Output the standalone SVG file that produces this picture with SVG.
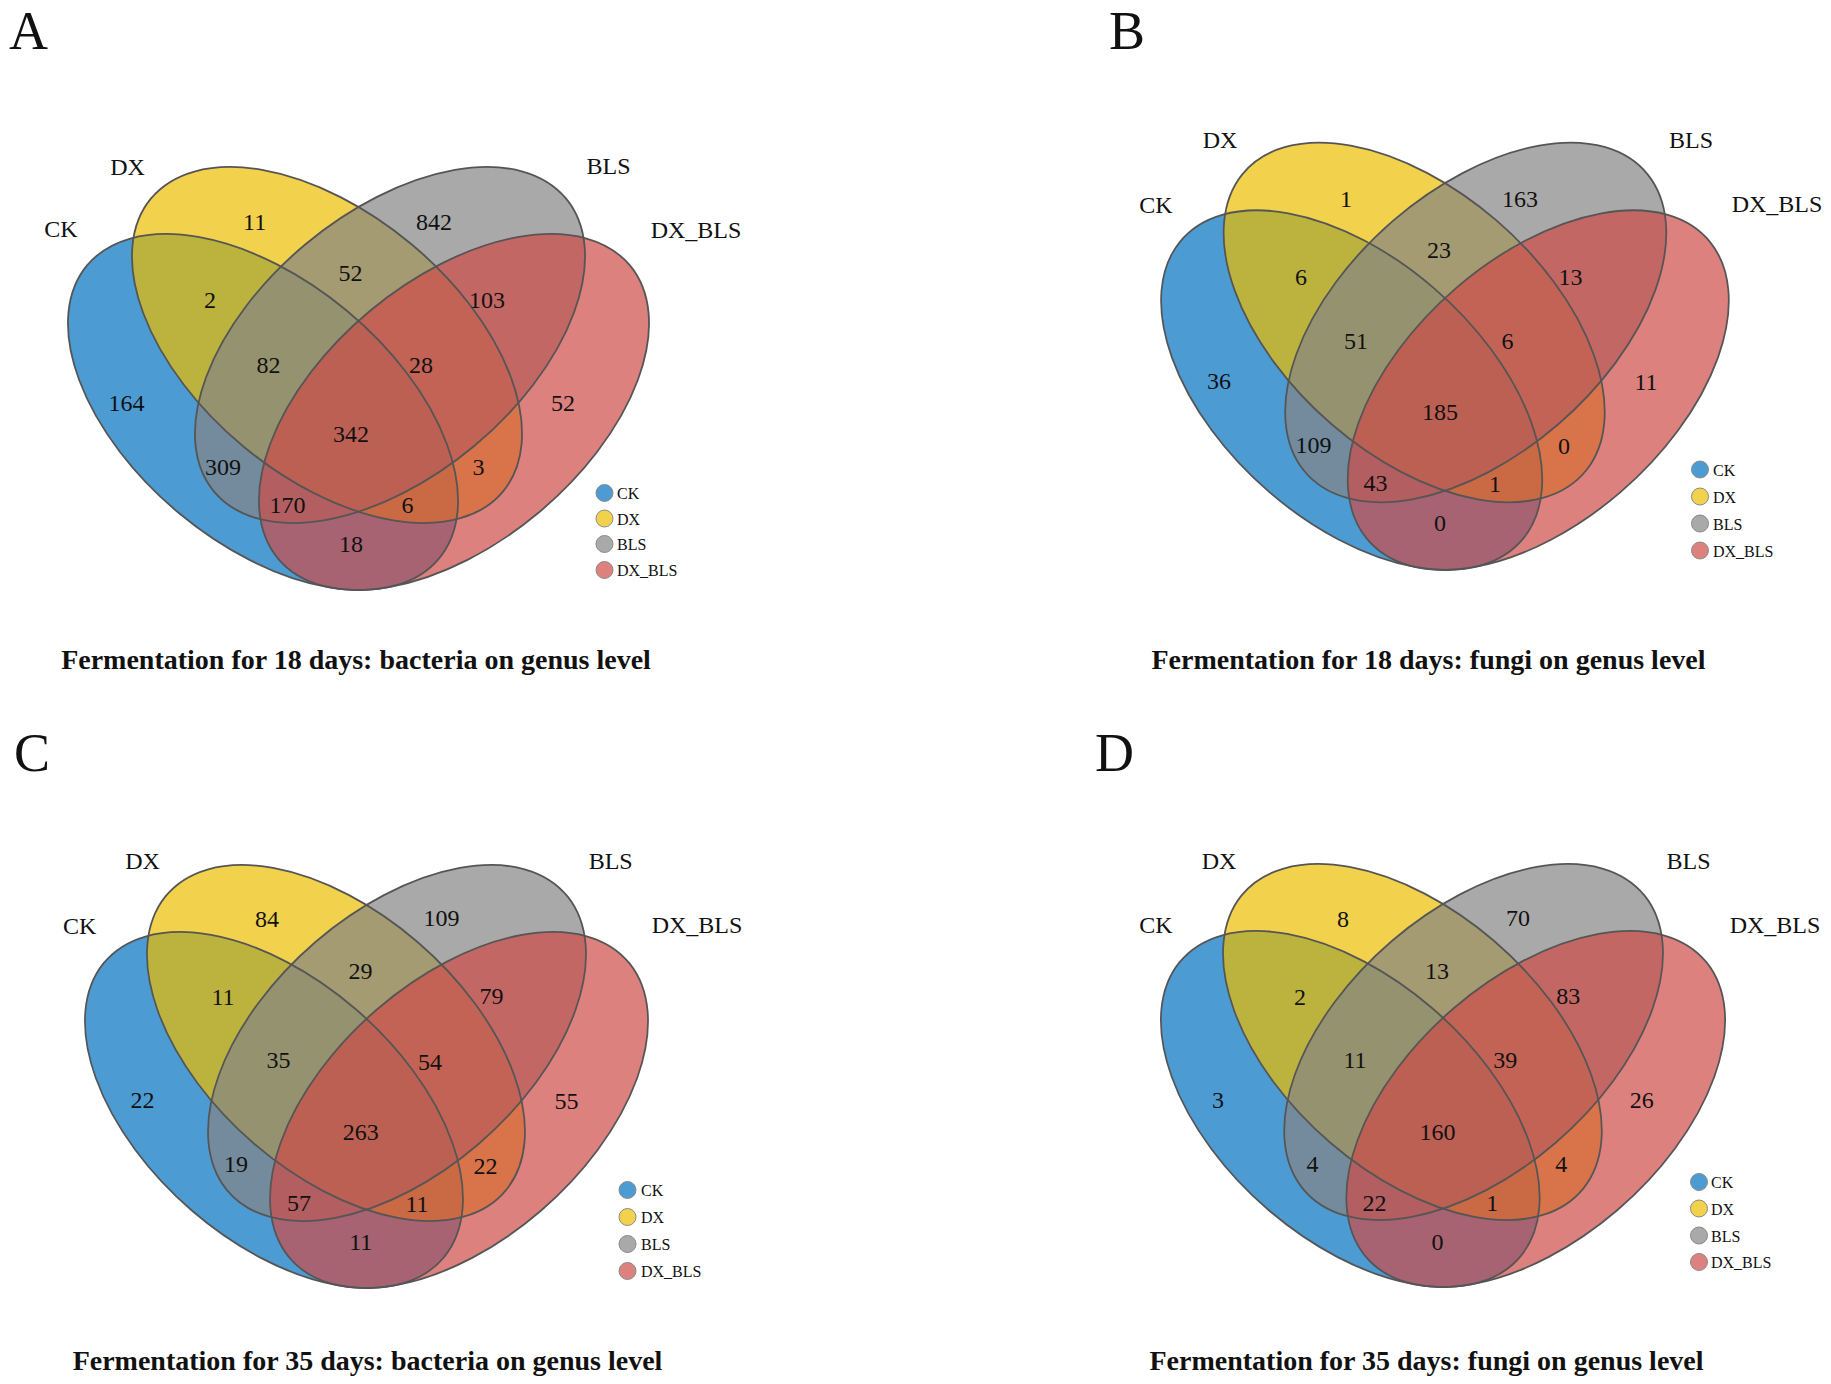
<svg xmlns="http://www.w3.org/2000/svg" xmlns:xlink="http://www.w3.org/1999/xlink" width="1831" height="1384" viewBox="0 0 1831 1384">
<style>
  text{font-family:"Liberation Serif","Times New Roman",serif;fill:#111}
  .n{font-size:24px;text-anchor:middle}
  .lab{font-size:24px;text-anchor:middle}
  .leg{font-size:16px}
  .title{font-size:28px;font-weight:bold;text-anchor:middle}
  .pl{font-size:54px}
  .ck{fill:#0072C0;fill-opacity:0.7;stroke:none}
  .dx{fill:#ECBD00;fill-opacity:0.7;stroke:none}
  .bls{fill:#848484;fill-opacity:0.7;stroke:none}
  .db{fill:#CE4C48;fill-opacity:0.7;stroke:none}
  .ol{fill:none;stroke:#555;stroke-width:1.8;vector-effect:non-scaling-stroke}
  .lc{stroke:#8a8a8a;stroke-width:1}
</style>
<defs>
  <ellipse id="eCK" cx="263" cy="412" rx="229" ry="131.5" transform="rotate(39.8 263 412)"/>
  <ellipse id="eDX" cx="327" cy="345" rx="229" ry="131.5" transform="rotate(39.8 327 345)"/>
  <ellipse id="eBLS" cx="390" cy="345" rx="229" ry="131.5" transform="rotate(-39.8 390 345)"/>
  <ellipse id="eDB" cx="454" cy="412" rx="229" ry="131.5" transform="rotate(-39.8 454 412)"/>
  <g id="venn">
    <use xlink:href="#eCK" class="ck"/>
    <use xlink:href="#eDX" class="dx"/>
    <use xlink:href="#eBLS" class="bls"/>
    <use xlink:href="#eDB" class="db"/>
    <use xlink:href="#eCK" class="ol"/>
    <use xlink:href="#eDX" class="ol"/>
    <use xlink:href="#eBLS" class="ol"/>
    <use xlink:href="#eDB" class="ol"/>
  </g>
</defs>

<g id="panel-A">
  <text class="pl" x="9" y="49">A</text>
  <g id="A-sets"><use xlink:href="#venn"/></g>
  <g id="A-labels">
    <text class="lab" x="61" y="237">CK</text>
    <text class="lab" x="127.5" y="175">DX</text>
    <text class="lab" x="608.5" y="174">BLS</text>
    <text class="lab" x="696" y="238">DX_BLS</text>
  </g>
  <g id="A-counts">
    <text class="n" x="254.6" y="230">11</text>
    <text class="n" x="434" y="230">842</text>
    <text class="n" x="210" y="308">2</text>
    <text class="n" x="350.5" y="281">52</text>
    <text class="n" x="487" y="308">103</text>
    <text class="n" x="268.5" y="372.5">82</text>
    <text class="n" x="421" y="372.5">28</text>
    <text class="n" x="126.5" y="411">164</text>
    <text class="n" x="563" y="411">52</text>
    <text class="n" x="351" y="442">342</text>
    <text class="n" x="223" y="474.5">309</text>
    <text class="n" x="478.5" y="474.5">3</text>
    <text class="n" x="287.5" y="512.5">170</text>
    <text class="n" x="407.5" y="512.5">6</text>
    <text class="n" x="351" y="551.5">18</text>
  </g>
  <g id="A-legend">
    <circle cx="604.5" cy="493" r="8.5" class="ck lc"/><text class="leg" x="617" y="499">CK</text>
    <circle cx="604.5" cy="518.5" r="8.5" class="dx lc"/><text class="leg" x="617" y="524.5">DX</text>
    <circle cx="604.5" cy="544" r="8.5" class="bls lc"/><text class="leg" x="617" y="550">BLS</text>
    <circle cx="604.5" cy="570" r="8.5" class="db lc"/><text class="leg" x="617" y="576">DX_BLS</text>
  </g>
  <text class="title" x="356" y="669">Fermentation for 18 days: bacteria on genus level</text>
</g>

<g id="panel-B">
  <text class="pl" x="1109" y="49">B</text>
  <g id="B-sets" transform="matrix(0.977 0 0 1.01 1094.7 -26)"><use xlink:href="#venn"/></g>
  <g id="B-labels">
    <text class="lab" x="1156" y="213">CK</text>
    <text class="lab" x="1220" y="148">DX</text>
    <text class="lab" x="1691" y="148">BLS</text>
    <text class="lab" x="1777" y="212">DX_BLS</text>
  </g>
  <g id="B-counts">
    <text class="n" x="1346" y="206.5">1</text>
    <text class="n" x="1520" y="206.5">163</text>
    <text class="n" x="1301" y="284.7">6</text>
    <text class="n" x="1439" y="257.5">23</text>
    <text class="n" x="1570.5" y="284.7">13</text>
    <text class="n" x="1356" y="349">51</text>
    <text class="n" x="1507.5" y="349">6</text>
    <text class="n" x="1219" y="389">36</text>
    <text class="n" x="1646" y="389.5">11</text>
    <text class="n" x="1440" y="420">185</text>
    <text class="n" x="1313.6" y="453">109</text>
    <text class="n" x="1564" y="453.5">0</text>
    <text class="n" x="1375.5" y="491">43</text>
    <text class="n" x="1495" y="491.5">1</text>
    <text class="n" x="1440" y="531">0</text>
  </g>
  <g id="B-legend">
    <circle cx="1700" cy="469.5" r="8.5" class="ck lc"/><text class="leg" x="1713" y="475.5">CK</text>
    <circle cx="1700" cy="496.5" r="8.5" class="dx lc"/><text class="leg" x="1713" y="502.5">DX</text>
    <circle cx="1700" cy="523.5" r="8.5" class="bls lc"/><text class="leg" x="1713" y="529.5">BLS</text>
    <circle cx="1700" cy="550.5" r="8.5" class="db lc"/><text class="leg" x="1713" y="556.5">DX_BLS</text>
  </g>
  <text class="title" x="1428.5" y="669">Fermentation for 18 days: fungi on genus level</text>
</g>

<g id="panel-C">
  <text class="pl" x="14" y="771">C</text>
  <g id="C-sets" transform="matrix(0.969 0 0 1 19.1 698)"><use xlink:href="#venn"/></g>
  <g id="C-labels">
    <text class="lab" x="79.7" y="934">CK</text>
    <text class="lab" x="142.5" y="869">DX</text>
    <text class="lab" x="610.7" y="869">BLS</text>
    <text class="lab" x="697" y="933">DX_BLS</text>
  </g>
  <g id="C-counts">
    <text class="n" x="267" y="926.5">84</text>
    <text class="n" x="441.4" y="926">109</text>
    <text class="n" x="223" y="1004.5">11</text>
    <text class="n" x="360.5" y="978.5">29</text>
    <text class="n" x="491.6" y="1004">79</text>
    <text class="n" x="278.5" y="1068.2">35</text>
    <text class="n" x="430" y="1069.5">54</text>
    <text class="n" x="142.5" y="1108">22</text>
    <text class="n" x="566.5" y="1109">55</text>
    <text class="n" x="360.8" y="1139.5">263</text>
    <text class="n" x="236" y="1172.2">19</text>
    <text class="n" x="485.5" y="1173.5">22</text>
    <text class="n" x="299" y="1211">57</text>
    <text class="n" x="417" y="1212">11</text>
    <text class="n" x="360.8" y="1250.4">11</text>
  </g>
  <g id="C-legend">
    <circle cx="627.5" cy="1190" r="8.5" class="ck lc"/><text class="leg" x="641" y="1196">CK</text>
    <circle cx="627.5" cy="1217" r="8.5" class="dx lc"/><text class="leg" x="641" y="1223">DX</text>
    <circle cx="627.5" cy="1244" r="8.5" class="bls lc"/><text class="leg" x="641" y="1250">BLS</text>
    <circle cx="627.5" cy="1271" r="8.5" class="db lc"/><text class="leg" x="641" y="1277">DX_BLS</text>
  </g>
  <text class="title" x="367.5" y="1370">Fermentation for 35 days: bacteria on genus level</text>
</g>

<g id="panel-D">
  <text class="pl" x="1095" y="771">D</text>
  <g id="D-sets" transform="matrix(0.971 0 0 1 1094.9 697)"><use xlink:href="#venn"/></g>
  <g id="D-labels">
    <text class="lab" x="1156" y="933">CK</text>
    <text class="lab" x="1219" y="869">DX</text>
    <text class="lab" x="1688.5" y="869">BLS</text>
    <text class="lab" x="1775" y="933">DX_BLS</text>
  </g>
  <g id="D-counts">
    <text class="n" x="1343" y="926.5">8</text>
    <text class="n" x="1518" y="926">70</text>
    <text class="n" x="1300" y="1004.5">2</text>
    <text class="n" x="1437" y="978.5">13</text>
    <text class="n" x="1568.2" y="1004">83</text>
    <text class="n" x="1355" y="1068.2">11</text>
    <text class="n" x="1505.2" y="1068.3">39</text>
    <text class="n" x="1217.9" y="1108">3</text>
    <text class="n" x="1641.8" y="1108">26</text>
    <text class="n" x="1437.4" y="1139.5">160</text>
    <text class="n" x="1312.5" y="1172.2">4</text>
    <text class="n" x="1561.2" y="1172.2">4</text>
    <text class="n" x="1374.4" y="1210.7">22</text>
    <text class="n" x="1492.3" y="1210.7">1</text>
    <text class="n" x="1437.4" y="1250.4">0</text>
  </g>
  <g id="D-legend">
    <circle cx="1699" cy="1182" r="8.5" class="ck lc"/><text class="leg" x="1711" y="1188">CK</text>
    <circle cx="1699" cy="1208.5" r="8.5" class="dx lc"/><text class="leg" x="1711" y="1214.5">DX</text>
    <circle cx="1699" cy="1235.5" r="8.5" class="bls lc"/><text class="leg" x="1711" y="1241.5">BLS</text>
    <circle cx="1699" cy="1262" r="8.5" class="db lc"/><text class="leg" x="1711" y="1268">DX_BLS</text>
  </g>
  <text class="title" x="1426.5" y="1370">Fermentation for 35 days: fungi on genus level</text>
</g>
<g id="connectors"/>
</svg>
